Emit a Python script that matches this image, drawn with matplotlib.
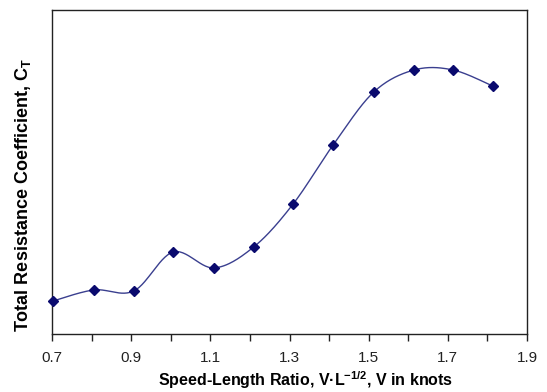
import numpy as np
import matplotlib
matplotlib.use("Agg")
import matplotlib.pyplot as plt

speed_length_ratio = [0.703, 0.806, 0.907, 1.006, 1.109, 1.210, 1.309, 1.410, 1.513, 1.615, 1.713, 1.814]
resistance_coeff = [0.102, 0.136, 0.133, 0.253, 0.204, 0.269, 0.401, 0.583, 0.747, 0.815, 0.815, 0.765]
x_ticks = [0.7, 0.9, 1.1, 1.3, 1.5, 1.7, 1.9]


def smooth_curve(x, y, n=30):
    """Excel-style smoothed line: cubic Bezier with Catmull-Rom tangents."""
    x = np.asarray(x, float)
    y = np.asarray(y, float)
    xs, ys = [], []
    m = len(x)
    for i in range(m - 1):
        p0 = np.array([x[max(i - 1, 0)], y[max(i - 1, 0)]])
        p1 = np.array([x[i], y[i]])
        p2 = np.array([x[i + 1], y[i + 1]])
        p3 = np.array([x[min(i + 2, m - 1)], y[min(i + 2, m - 1)]])
        c1 = p1 + (p2 - p0) / 6.0
        c2 = p2 - (p3 - p1) / 6.0
        t = np.linspace(0, 1, n)[:, None]
        pts = ((1 - t) ** 3) * p1 + 3 * ((1 - t) ** 2) * t * c1 + 3 * (1 - t) * t ** 2 * c2 + t ** 3 * p2
        xs.extend(pts[:, 0])
        ys.extend(pts[:, 1])
    return np.array(xs), np.array(ys)


plt.rcParams['font.family'] = ['Liberation Sans', 'DejaVu Sans']
plt.rcParams['mathtext.fontset'] = 'custom'
plt.rcParams['mathtext.rm'] = 'Liberation Sans'
plt.rcParams['mathtext.bf'] = 'Liberation Sans:bold'
plt.rcParams['mathtext.it'] = 'Liberation Sans:italic'

fig = plt.figure(figsize=(5.47, 3.92), dpi=100)
W, H = 547, 392
ax = fig.add_axes([52 / W, (H - 334) / H, (527 - 52) / W, (334 - 10) / H])

sx, sy = smooth_curve(speed_length_ratio, resistance_coeff)
ax.plot(sx, sy, color='#3a3f8f', lw=1.0, zorder=2)
ax.plot(speed_length_ratio, resistance_coeff, linestyle='none', marker='D',
        markersize=5.5, color='#0a0a6e', zorder=3, clip_on=False)

ax.set_xlim(0.7, 1.9)
ax.set_ylim(0, 1)
ax.set_xticks(x_ticks)
ax.set_xticklabels([f"{v:.1f}" for v in x_ticks])
ax.set_xticks(np.arange(0.8, 1.9, 0.2), minor=True)
ax.tick_params(axis='x', which='both', direction='out', length=5, width=1, colors='#222222',
               labelsize=11, pad=7)
ax.set_yticks([])
for s in ax.spines.values():
    s.set_color('#222222')
    s.set_linewidth(1.0)

ax.set_xlabel(r"Speed-Length Ratio, V·L$^{\mathbf{-1/2}}$, V in knots", fontsize=11.5,
              fontweight='bold')
ax.set_ylabel(r"Total Resistance Coefficient, C$_\mathbf{T}$", fontsize=13, fontweight='bold')
ax.xaxis.set_label_coords(0.534, -0.108)
ax.yaxis.set_label_coords(-0.041, 0.43)

fig.savefig("out.png", dpi=100)
